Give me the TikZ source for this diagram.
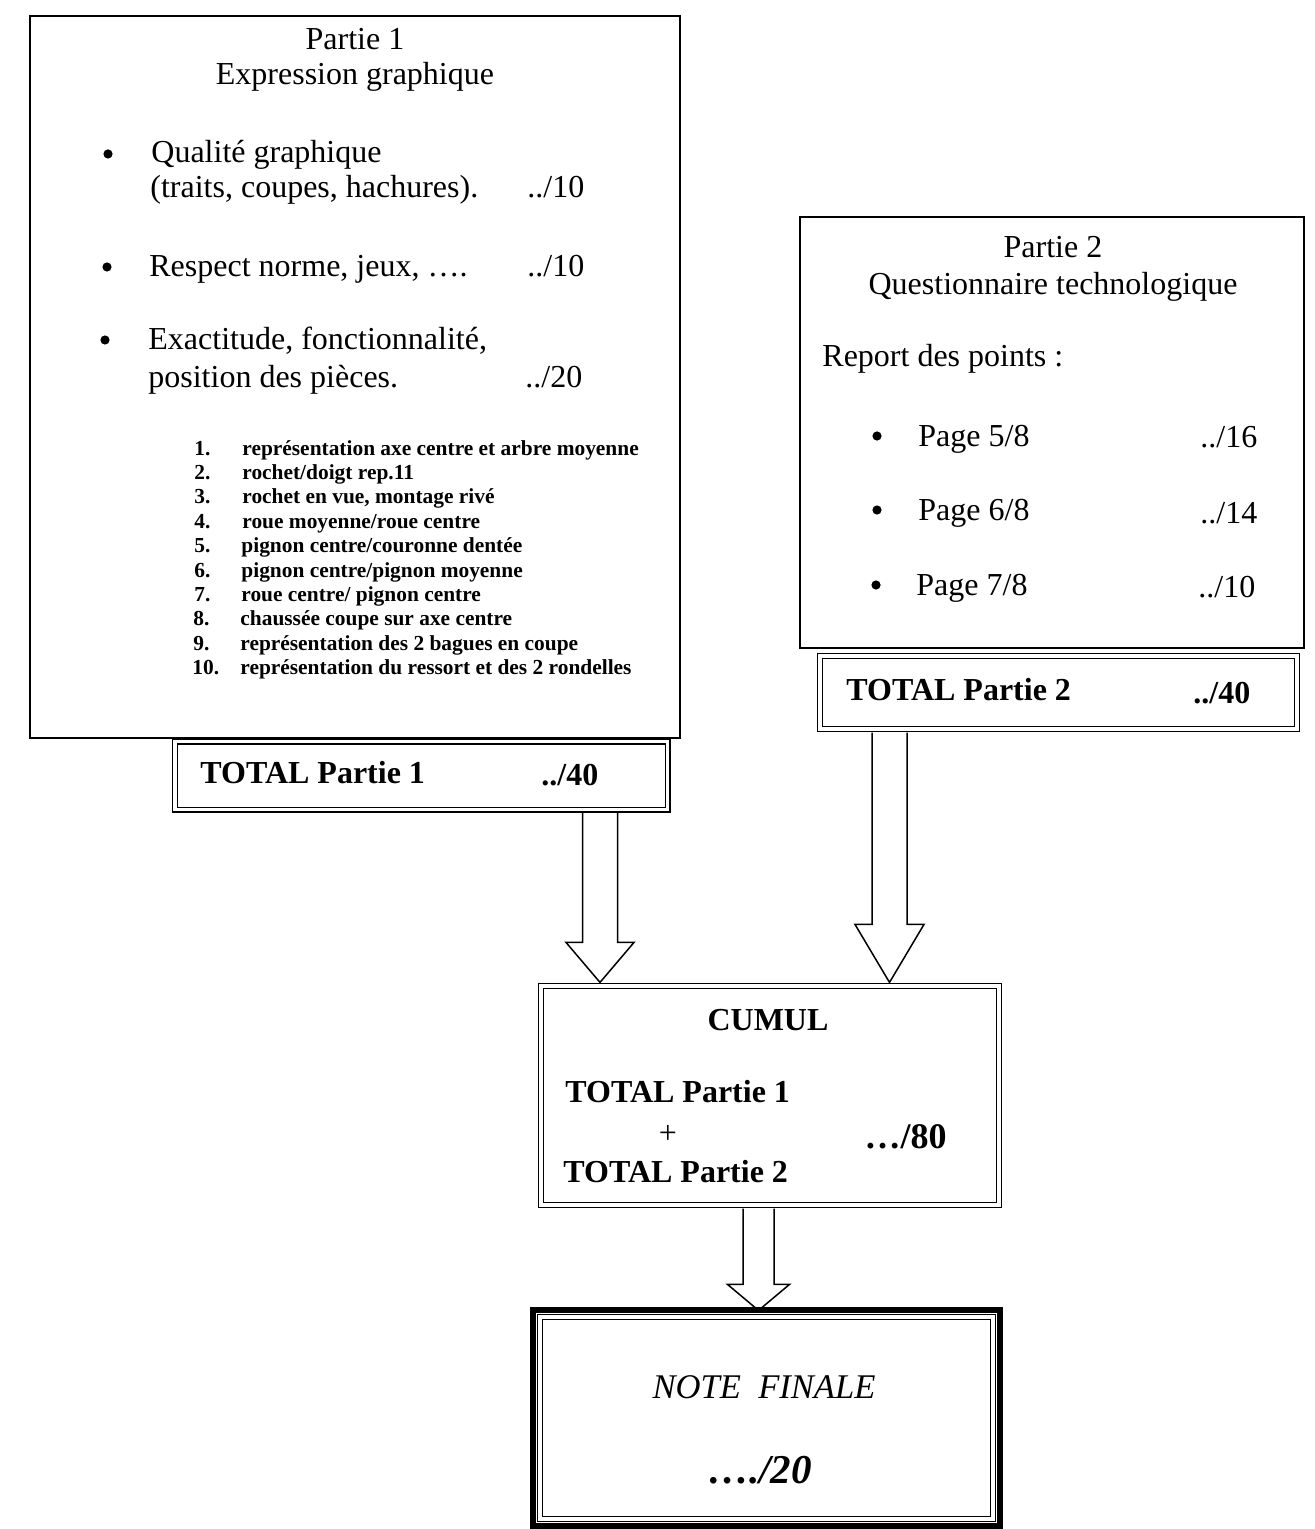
\documentclass[tikz,border=0pt]{standalone}
\usepackage{fontspec}
\setmainfont{Liberation Serif}
\usetikzlibrary{calc}
\newcommand\blockarr[6]{% #1 x coordinate, #2 top point, #3 tip point, #4 half shaft, #5 half head, #6 head length
  \coordinate (ba-top) at (#1 |- #2);
  \coordinate (ba-tip) at (#1 |- #3);
  \draw[barrow] ($(ba-top)+(-#4,0)$) -- ($(ba-tip)+(-#4,-#6)$) -- ($(ba-tip)+(-#5,-#6)$) -- (ba-tip)
     -- ($(ba-tip)+(#5,-#6)$) -- ($(ba-tip)+(#4,-#6)$) -- ($(ba-top)+(#4,0)$);
}
\begin{document}
\begin{tikzpicture}[x=0.5pt,y=-0.5pt,
  txt/.style={inner sep=0pt, font=\fontsize{16}{19}\selectfont},
  lt/.style={txt, anchor=base west},
  ct/.style={txt, anchor=base},
  blt/.style={txt, anchor=base west, font=\fontsize{16}{19}\selectfont\bfseries},
  bulletdot/.style={circle, fill=black, inner sep=0pt, minimum size=4.6pt},
  item/.style={inner sep=0pt, anchor=base west, font=\fontsize{10.7}{12}\selectfont\bfseries},
  frame/.style={draw, line width=0.75pt, inner sep=0pt},
  dframe/.style={draw, double, line width=0.6pt, double distance=1.8pt, inner sep=0pt},
  barrow/.style={draw, line width=0.75pt, line join=miter}]
\useasboundingbox (0,0) rectangle (1314,1529);

% ---- boxes ----
\node[frame, minimum width=325pt, minimum height=361pt] (p1) at (355,377) {};
\node[dframe, fill=white, minimum width=246.25pt, minimum height=34pt] (t1) at (421.25,775.5) {};
\node[frame, minimum width=252pt, minimum height=215.5pt] (p2) at (1052,432.5) {};
\node[dframe, fill=white, minimum width=238.5pt, minimum height=36.5pt] (t2) at (1058.5,692.5) {};
\node[dframe, minimum width=229pt, minimum height=109.5pt] (cum) at (770,1095.5) {};
\node[dframe, minimum width=226.5pt, minimum height=101pt] (note) at (766.5,1418) {};
\draw[line width=3pt] ($(note.north west)+(-6,-6)$) rectangle ($(note.south east)+(6,6)$);

% ---- connectors ----
\coordinate (t1b) at ($(t1.south)+(0,3)$);
\coordinate (t2b) at ($(t2.south)+(0,3)$);
\coordinate (cumt) at ($(cum.north)+(0,-3)$);
\coordinate (cumb) at ($(cum.south)+(0,3)$);
\coordinate (notet) at ($(note.north)+(0,-6)$);
\coordinate (a1x) at (600,0);
\coordinate (a2x) at (889.5,0);
\coordinate (a3x) at (758.5,0);
\blockarr{a1x}{t1b}{cumt}{17.5}{34}{40}
\blockarr{a2x}{t2b}{cumt}{17.5}{34.5}{58}
\blockarr{a3x}{cumb}{notet}{15.5}{31}{26}

% ---- Partie 1 ----
\node[ct] (p1a) at (355,50) {Partie 1};
\node[ct] (p1b) at (355,85) {Expression graphique};
\node[bulletdot] (b11) at (108,154) {};
\node[lt] (q1) at (151,163) {Qualité graphique};
\node[lt] (q2) at (150,198) {(traits, coupes, hachures).};
\node[lt] (q3) at (527,198) {../10};
\node[bulletdot] (b12) at (107,267) {};
\node[lt] (r1) at (149,277) {Respect norme, jeux, ….};
\node[lt] (r2) at (527,277) {../10};
\node[bulletdot] (b13) at (105,340) {};
\node[lt] (e1) at (148,350) {Exactitude, fonctionnalité,};
\node[lt] (e2) at (148,388) {position des pièces.};
\node[lt] (e3) at (525,388) {../20};

\node[item] (n1) at (194,455) {1.};    \node[item] (i1) at (242,455) {représentation axe centre et arbre moyenne};
\node[item] (n2) at (194,479.4) {2.};  \node[item] (i2) at (242,479.4) {rochet/doigt rep.11};
\node[item] (n3) at (194,503.8) {3.};  \node[item] (i3) at (242,503.8) {rochet en vue, montage rivé};
\node[item] (n4) at (194,528.2) {4.};  \node[item] (i4) at (242,528.2) {roue moyenne/roue centre};
\node[item] (n5) at (194,552.6) {5.};  \node[item] (i5) at (241,552.6) {pignon centre/couronne dentée};
\node[item] (n6) at (194,577) {6.};    \node[item] (i6) at (241,577) {pignon centre/pignon moyenne};
\node[item] (n7) at (194,601.4) {7.};  \node[item] (i7) at (241,601.4) {roue centre/ pignon centre};
\node[item] (n8) at (193,625.8) {8.};  \node[item] (i8) at (240,625.8) {chaussée coupe sur axe centre};
\node[item] (n9) at (193,650.2) {9.};  \node[item] (i9) at (240,650.2) {représentation des 2 bagues en coupe};
\node[item] (n10) at (192,674.6) {10.};\node[item] (i10) at (240,674.6) {représentation du ressort et des 2 rondelles};

\node[blt] (t1a) at (200,783) {TOTAL Partie 1};
\node[blt] (t1c) at (541,785) {../40};

% ---- Partie 2 ----
\node[ct] (p2a) at (1053,258) {Partie 2};
\node[ct] (p2b) at (1053,295) {Questionnaire technologique};
\node[lt] (rep) at (822,367) {Report des points :};
\node[bulletdot] (b21) at (877,436) {};
\node[lt] (g1) at (918,446) {Page 5/8};
\node[lt] (v1) at (1200,447) {../16};
\node[bulletdot] (b22) at (877,510) {};
\node[lt] (g2) at (918,520) {Page 6/8};
\node[lt] (v2) at (1200,523) {../14};
\node[bulletdot] (b23) at (876,585) {};
\node[lt] (g3) at (916,595) {Page 7/8};
\node[lt] (v3) at (1198,597) {../10};

\node[blt] (t2a) at (846,700) {TOTAL Partie 2};
\node[blt] (t2c) at (1193,703) {../40};

% ---- CUMUL ----
\node[txt, anchor=base, font=\fontsize{16}{19}\selectfont\bfseries] (cu) at (768,1030) {CUMUL};
\node[blt] (c1) at (565,1102) {TOTAL Partie 1};
\node[ct] (cp) at (668,1143) {+};
\node[blt] (c2) at (563,1182) {TOTAL Partie 2};
\node[txt, anchor=base east, font=\fontsize{18}{21}\selectfont\bfseries] (c3) at (947,1148) {…/80};

% ---- NOTE FINALE ----
\node[txt, anchor=base, font=\fontsize{17.3}{20}\selectfont\itshape] (nf) at (764,1398) {NOTE\ \ FINALE};
\node[txt, anchor=base, font=\fontsize{20.5}{24}\selectfont\bfseries\itshape] (nv) at (760,1483) {…./20};
\end{tikzpicture}
\end{document}
